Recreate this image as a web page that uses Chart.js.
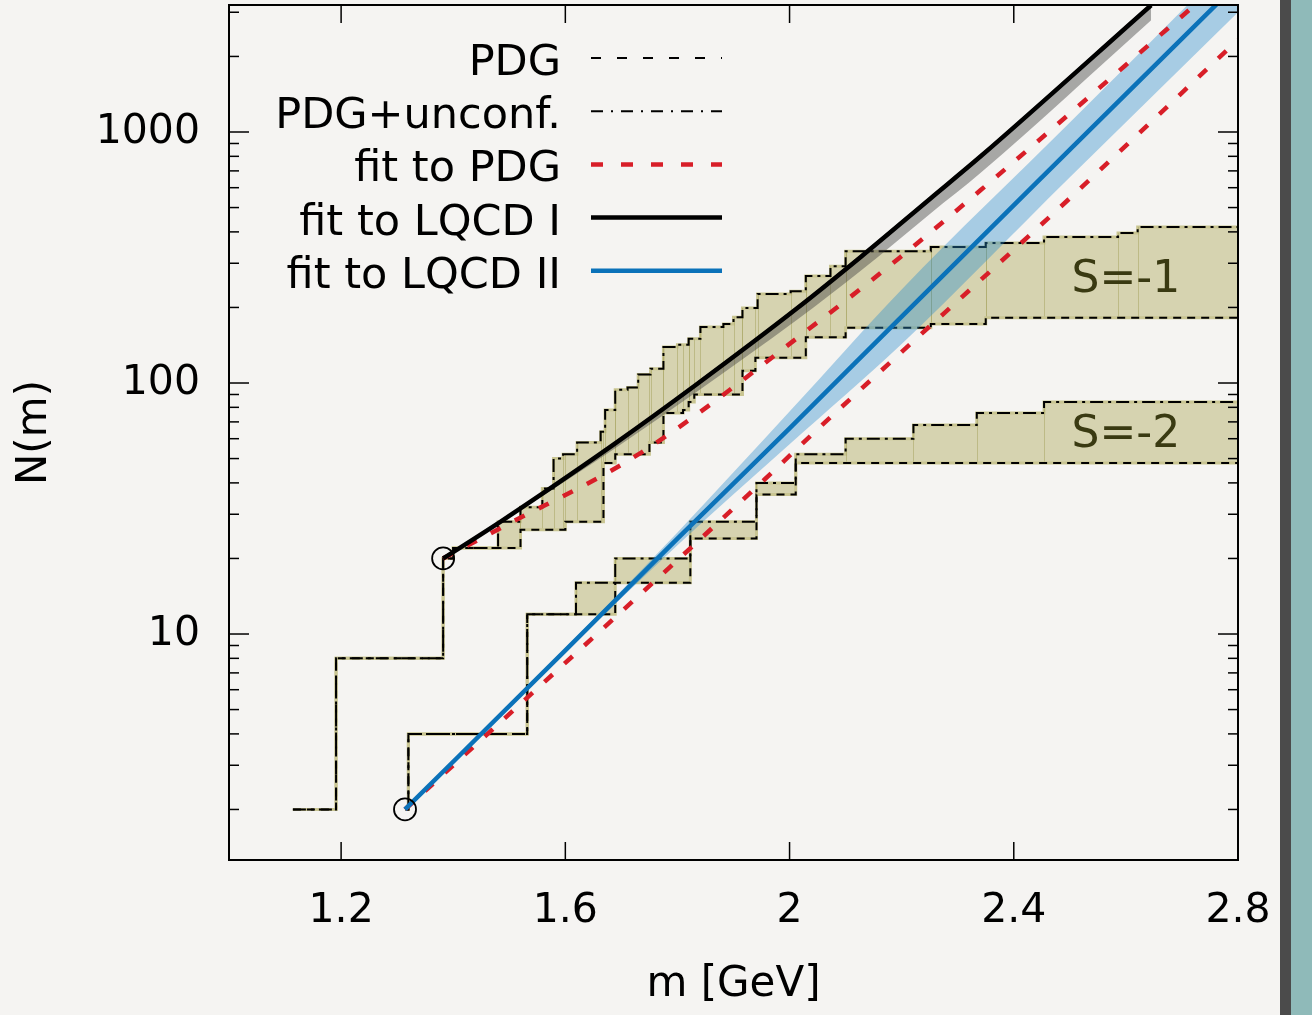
<!DOCTYPE html>
<html>
<head>
<meta charset="utf-8">
<script src="https://cdn.jsdelivr.net/npm/chart.js@4.4.1/dist/chart.umd.min.js"></script>
<style>
    html, body { margin: 0; padding: 0; background: #f5f4f2; }
    #marco { position: relative; width: 1312px; height: 1015px; overflow: hidden; }
    #borde { position: absolute; left: 1280px; top: 0; width: 32px; height: 1015px; background: #8fbab9; border-left: 11px solid #4b4b4b; box-sizing: border-box; }
</style>
</head>
<body>
<div id="marco">
    <canvas id="grafico" width="1312" height="1015"></canvas>
    <div id="borde"></div>
</div>
<script>
// ==========================================
// DATOS (m en GeV, N(m) acumulado)
// ==========================================
// S=-1: PDG (confirmados) y PDG + no confirmados
const s1M     = [1.114, 1.191, 1.382, 1.400, 1.520, 1.600, 1.668, 1.689, 1.750, 1.775, 1.810, 1.820, 1.830, 1.916, 1.939, 2.029, 2.100, 2.252, 2.350, 2.800];
const s1Pdg   = [2, 8, 20, 22, 26, 28, 48, 52, 58, 76, 78, 84, 90, 112, 126, 152, 166, 172, 182, 182];
const s1UncM  = [1.114, 1.191, 1.382, 1.400, 1.480, 1.520, 1.559, 1.579, 1.596, 1.621, 1.663, 1.671, 1.689, 1.711, 1.730, 1.752, 1.775, 1.800, 1.820, 1.841, 1.882, 1.900, 1.916, 1.943, 2.002, 2.029, 2.073, 2.100, 2.252, 2.350, 2.454, 2.586, 2.621, 2.800];
const s1Unc   = [2, 8, 20, 22, 28, 32, 38, 50, 52, 58, 64, 78, 94, 96, 108, 114, 139, 142, 150, 167, 172, 183, 199, 226, 232, 267, 292, 335, 348, 361, 382, 396, 418, 418];

// S=-2
const s2M     = [1.315, 1.320, 1.532, 1.689, 1.823, 1.941, 2.011, 2.800];
const s2Pdg   = [2, 4, 12, 16, 24, 36, 48, 48];
const s2UncM  = [1.315, 1.320, 1.532, 1.619, 1.689, 1.823, 1.941, 2.011, 2.100, 2.221, 2.334, 2.454, 2.800];
const s2Unc   = [2, 4, 12, 16, 20, 28, 40, 52, 60, 68, 76, 84, 84];

// ajuste a LQCD I (negro) con su banda
const lqcd1M  = [1.382, 1.484, 1.561, 1.689, 1.832, 2.014, 2.127, 2.252, 2.341, 2.645];
const lqcd1N  = [20, 28, 36.5, 57.5, 98, 199, 318, 545, 800, 3200];
const lqcd1Lo = [20, 27.7, 35.7, 55, 91.5, 179, 280, 475, 688, 2790];
const lqcd1Hi = [20, 28.3, 37, 58.5, 100, 203, 325, 557, 818, 3280];

// ajuste a LQCD II (azul) con su banda
const lqcd2M  = [1.314, 1.6, 1.8, 2.0, 2.2, 2.5, 2.8];
const lqcd2N  = [2, 8.6, 24, 66, 184, 850, 3920];
const lqcd2Lo = [2, 8.5, 22.6, 57, 143, 660, 3000];
const lqcd2Hi = [2, 8.8, 25.4, 77, 236, 1090, 5100];

// ajuste a PDG (rojo discontinuo), S=-1 y S=-2
const fitPdg1M = [1.382, 1.484, 1.734, 2.055, 2.198, 2.341, 2.720];
const fitPdg1N = [20, 26.4, 52.6, 178, 318, 587, 3160];
const fitPdg2M = [1.314, 1.954, 2.055, 2.413, 2.502, 2.800];
const fitPdg2N = [2, 41, 67, 361, 550, 2330];

// puntos de arranque (circulos)
const circM = [1.382, 1.314];
const circN = [20, 2];

// ejes
const xTicks      = [1.2, 1.6, 2.0, 2.4, 2.8];
const xTickLabels = ['1.2', '1.6', '2', '2.4', '2.8'];
const yTicks      = [10, 100, 1000];
const yTickLabels = ['10', '100', '1000'];
const yMinor      = [2, 3, 4, 5, 6, 7, 8, 9, 20, 30, 40, 50, 60, 70, 80, 90, 200, 300, 400, 500, 600, 700, 800, 900, 2000, 3000];

const leyendaTextos = ['PDG', 'PDG+unconf.', 'fit to PDG', 'fit to LQCD I', 'fit to LQCD II'];
const etiquetasS    = ['S=-1', 'S=-2'];
const etiquetasSPos = [[2.6, 257], [2.6, 62]];

// ==========================================
const FUENTE = "'DejaVu Sans', Verdana, sans-serif";
const OLIVA = '#d6d3b0';
const OLIVA_BORDE = '#c9c592';
const ROJO = '#d81e28';
const AZUL = '#0b72b9';
const DASH_PDG = [8, 6];
const DASH_UNC = [13, 5, 3, 5];
const DASH_ROJO = [11, 16];

const pts = (ms, ns) => ms.map((m, i) => ({ x: m, y: ns[i] }));
const datasets = [];
function agregar(d) {
    datasets.push(Object.assign({ pointRadius: 0, borderWidth: 0, fill: false, clip: 0 }, d));
    return datasets.length - 1;
}

// bandas olivas (relleno entre PDG y PDG+unconf.)
const s1Low = agregar({ data: pts(s1M, s1Pdg), stepped: 'before', borderColor: OLIVA_BORDE, borderWidth: 3, order: 9 });
const s1Up  = agregar({ data: pts(s1UncM, s1Unc), stepped: 'before', borderColor: OLIVA_BORDE, borderWidth: 3, order: 9, fill: { target: s1Low }, backgroundColor: OLIVA });
const s2Low = agregar({ data: pts(s2M, s2Pdg), stepped: 'before', borderColor: OLIVA_BORDE, borderWidth: 3, order: 9 });
const s2Up  = agregar({ data: pts(s2UncM, s2Unc), stepped: 'before', borderColor: OLIVA_BORDE, borderWidth: 3, order: 9, fill: { target: s2Low }, backgroundColor: OLIVA });

// bordes negros de las escaleras
agregar({ data: pts(s1M, s1Pdg), stepped: 'before', borderColor: '#000', borderWidth: 2, borderDash: DASH_PDG, order: 8 });
agregar({ data: pts(s1UncM, s1Unc), stepped: 'before', borderColor: '#000', borderWidth: 2, borderDash: DASH_UNC, order: 8 });
agregar({ data: pts(s2M, s2Pdg), stepped: 'before', borderColor: '#000', borderWidth: 2, borderDash: DASH_PDG, order: 8 });
agregar({ data: pts(s2UncM, s2Unc), stepped: 'before', borderColor: '#000', borderWidth: 2, borderDash: DASH_UNC, order: 8 });

// bandas de error de los ajustes
const b2Lo = agregar({ data: pts(lqcd2M, lqcd2Lo), cubicInterpolationMode: 'monotone', order: 7 });
agregar({ data: pts(lqcd2M, lqcd2Hi), cubicInterpolationMode: 'monotone', order: 7, fill: { target: b2Lo }, backgroundColor: 'rgba(40,140,205,0.38)' });
const b1Lo = agregar({ data: pts(lqcd1M, lqcd1Lo), cubicInterpolationMode: 'monotone', order: 6 });
agregar({ data: pts(lqcd1M, lqcd1Hi), cubicInterpolationMode: 'monotone', order: 6, fill: { target: b1Lo }, backgroundColor: 'rgba(60,60,60,0.42)' });

// ajustes a PDG
agregar({ data: pts(fitPdg1M, fitPdg1N), cubicInterpolationMode: 'monotone', borderColor: ROJO, borderWidth: 4.5, borderDash: DASH_ROJO, order: 4 });
agregar({ data: pts(fitPdg2M, fitPdg2N), cubicInterpolationMode: 'monotone', borderColor: ROJO, borderWidth: 4.5, borderDash: DASH_ROJO, order: 4 });

// ajustes a LQCD
agregar({ data: pts(lqcd1M, lqcd1N), cubicInterpolationMode: 'monotone', borderColor: '#000', borderWidth: 4.5, order: 2 });
agregar({ data: pts(lqcd2M, lqcd2N), cubicInterpolationMode: 'monotone', borderColor: AZUL, borderWidth: 4.5, order: 1 });

// circulos
agregar({ data: pts(circM, circN), showLine: false, pointRadius: 11, pointBorderWidth: 1.8, pointBorderColor: '#000', pointBackgroundColor: 'rgba(0,0,0,0)', order: 0 });

function valorEn(ms, ns, m) {
    let v = ns[0];
    for (let i = 0; i < ms.length; i++) if (ms[i] <= m + 1e-9) v = ns[i];
    return v;
}

// lineas finas verticales dentro del relleno + ejes, marcas, textos y leyenda
const extras = {
    id: 'extras',
    afterDatasetDraw(chart, args) {
        const pares = { [s1Up]: [s1M, s1Pdg, s1UncM, s1Unc], [s2Up]: [s2M, s2Pdg, s2UncM, s2Unc] };
        const p = pares[args.index];
        if (!p) return;
        const { ctx, scales: { x, y } } = chart;
        const [lm, ln, um, un] = p;
        ctx.save();
        ctx.strokeStyle = 'rgba(170,165,100,0.55)';
        ctx.lineWidth = 1;
        [...um.slice(1, -1), ...lm.slice(1, -1)].forEach(m => {
            const lo = valorEn(lm, ln, m), hi = valorEn(um, un, m);
            if (hi <= lo) return;
            const px = Math.round(x.getPixelForValue(m)) + 0.5;
            ctx.beginPath();
            ctx.moveTo(px, y.getPixelForValue(lo));
            ctx.lineTo(px, y.getPixelForValue(hi));
            ctx.stroke();
        });
        ctx.restore();
    },
    afterDraw(chart) {
        const { ctx, chartArea: a, scales: { x, y } } = chart;
        const linea = (x1, y1, x2, y2) => { ctx.beginPath(); ctx.moveTo(x1, y1); ctx.lineTo(x2, y2); ctx.stroke(); };
        ctx.save();
        ctx.strokeStyle = '#000';
        ctx.lineWidth = 1.5;
        yTicks.forEach(v => { const py = y.getPixelForValue(v); linea(a.left, py, a.left + 20, py); linea(a.right, py, a.right - 20, py); });
        yMinor.forEach(v => { const py = y.getPixelForValue(v); if (py < a.top || py > a.bottom) return; linea(a.left, py, a.left + 10, py); linea(a.right, py, a.right - 10, py); });
        xTicks.forEach(v => { const px = x.getPixelForValue(v); linea(px, a.bottom, px, a.bottom - 18); linea(px, a.top, px, a.top + 18); });
        ctx.lineWidth = 2;
        ctx.strokeRect(a.left, a.top, a.right - a.left, a.bottom - a.top);

        // etiquetas S=-1 / S=-2
        ctx.fillStyle = '#3a3a12';
        ctx.font = `44px ${FUENTE}`;
        ctx.textAlign = 'center';
        ctx.textBaseline = 'middle';
        etiquetasS.forEach((t, i) => ctx.fillText(t, x.getPixelForValue(etiquetasSPos[i][0]), y.getPixelForValue(etiquetasSPos[i][1])));

        // leyenda
        const estilos = [
            { c: '#000', w: 2, d: [10, 16] },
            { c: '#000', w: 2, d: [12, 8, 2, 8] },
            { c: ROJO, w: 4.5, d: [12, 18] },
            { c: '#000', w: 4.5, d: [] },
            { c: AZUL, w: 4.5, d: [] }
        ];
        ctx.font = `43px ${FUENTE}`;
        ctx.textAlign = 'right';
        ctx.textBaseline = 'alphabetic';
        ctx.fillStyle = '#000';
        leyendaTextos.forEach((t, i) => {
            const base = 75 + i * 53.2;
            ctx.fillText(t, 561, base);
            const e = estilos[i];
            ctx.strokeStyle = e.c; ctx.lineWidth = e.w; ctx.setLineDash(e.d);
            linea(591, base - 17, 722, base - 17);
        });
        ctx.restore();
    }
};

new Chart(document.getElementById('grafico'), {
    type: 'line',
    data: { datasets },
    options: {
        responsive: false,
        animation: false,
        events: [],
        layout: { autoPadding: false, padding: { left: 0, top: 5, right: 74, bottom: 0 } },
        plugins: { legend: { display: false }, tooltip: { enabled: false } },
        scales: {
            x: {
                type: 'linear', min: 1.0, max: 2.8,
                grid: { display: false, drawTicks: false }, border: { display: false },
                afterBuildTicks: s => { s.ticks = xTicks.map(v => ({ value: v })); },
                ticks: { callback: (v, i) => xTickLabels[i], font: { family: FUENTE, size: 41 }, color: '#000', padding: 27, maxRotation: 0, autoSkip: false },
                title: { display: true, text: 'm [GeV]', font: { family: FUENTE, size: 42 }, color: '#000', padding: { top: 0, bottom: 5 } },
                afterFit: s => { s.height = 155; s.paddingLeft = 0; s.paddingRight = 0; }
            },
            y: {
                type: 'logarithmic', min: 1.258, max: 3206,
                grid: { display: false, drawTicks: false }, border: { display: false },
                afterBuildTicks: s => { s.ticks = yTicks.map(v => ({ value: v })); },
                ticks: { callback: (v, i) => yTickLabels[i], font: { family: FUENTE, size: 41 }, color: '#000', padding: 29, autoSkip: false },
                title: { display: true, text: 'N(m)', font: { family: FUENTE, size: 42 }, color: '#000', padding: { top: 10, bottom: 0 } },
                afterFit: s => { s.width = 229; s.paddingTop = 0; s.paddingBottom = 0; }
            }
        }
    },
    plugins: [extras]
});
</script>
</body>
</html>
